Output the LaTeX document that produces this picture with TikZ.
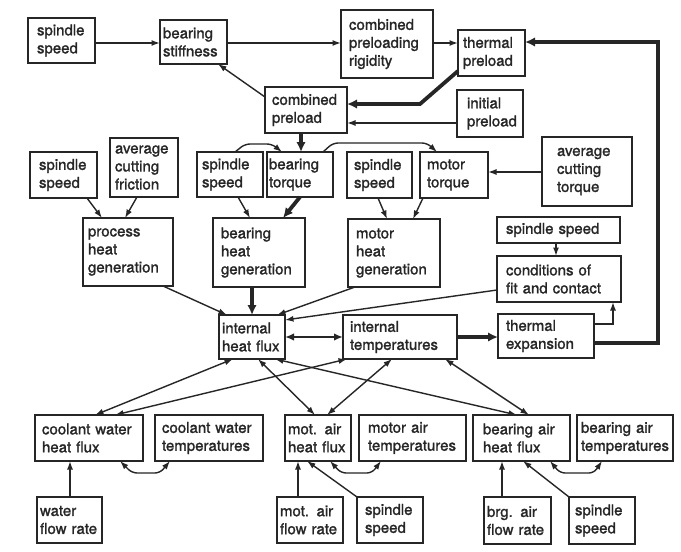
\documentclass[tikz,border=0pt]{standalone}
\usepackage{fontspec}
\setmainfont{TeX Gyre Heros}[FakeBold=1.4]
\usetikzlibrary{arrows.meta}
\definecolor{ink}{HTML}{262626}
\newcommand\bx[7][6]{%
  \pgfmathsetmacro\bxw{#5-#3}%
  \pgfmathsetmacro\bxh{#6-#4}%
  \pgfmathsetmacro\bxt{#5-#3-2*#1}%
  \node[box, inner xsep=#1pt, minimum width=\bxw pt, minimum height=\bxh pt,
        text width=\bxt pt, anchor=north west] (#2) at (#3,#4) {#7};%
}
\begin{document}
\begin{tikzpicture}[x=1pt,y=-1pt,
  box/.style={draw=ink, line width=1.5pt, outer sep=0pt, inner ysep=0pt,
    align=left, text=ink, font=\fontsize{15}{18}\selectfont},
  thin/.style={draw=ink, line width=1.4pt},
  thk/.style={draw=ink, line width=3.8pt, line join=miter},
  med/.style={draw=ink, line width=2.8pt},
  arr/.style={-{Latex[length=8.5pt,width=6pt]}},
  darr/.style={{Latex[length=8.5pt,width=6pt]}-{Latex[length=8.5pt,width=6pt]}},
  tarr/.style={-{Latex[length=10pt,width=9.5pt]}},
]
\useasboundingbox[fill=white] (0,0) rectangle (681,552);

% ---- boxes ----
\bx[9]{ss1}{28}{18}{95}{63}{spindle\\speed}
\bx[3]{bs}{160}{20}{227}{64}{bearing\\stiffness}
\bx[8]{cpr}{341}{10}{433}{78}{combined\\preloading\\rigidity}
\bx[5]{tp}{458}{30}{525}{76}{thermal\\preload}
\bx[10]{ip}{457}{90}{523}{137}{initial\\preload}
\bx[7]{cp}{265}{87}{347}{133}{combined\\preload}

\bx[9]{ss2}{30}{152}{97}{198}{spindle\\speed}
\bx[5]{acf}{110}{138}{178}{197}{average\\cutting\\friction}
\bx[5]{phg}{83}{218}{173}{286}{process\\heat\\generation}
\bx[5]{ss3}{197}{152}{263}{197}{spindle\\speed}
\bx[2]{btq}{267}{152}{333}{197}{bearing\\torque}
\bx[8]{bhg}{213}{218}{305}{287}{bearing\\heat\\generation}
\bx[7]{ss4}{347}{152}{412}{198}{spindle\\speed}
\bx[7]{mt}{420}{152}{488}{198}{motor\\torque}
\bx[15]{act}{542}{137}{632}{206}{average\\cutting\\torque}
\bx[8]{mhg}{348}{219}{440}{287}{motor\\heat\\generation}
\bx[9]{ss5}{497}{217}{620}{243}{spindle speed}
\bx[9]{cfc}{497}{256}{621}{302}{conditions of\\fit and contact}
\bx[8]{te}{498}{314}{594}{358}{thermal\\expansion}
\bx[3]{ihf}{219}{315}{285}{359}{internal\\heat flux}
\bx[7]{it}{343}{315}{457}{359}{internal\\temperatures}

\bx[7]{cwhf}{35}{415}{143}{461}{coolant water\\heat flux}
\bx[7]{cwt}{155}{415}{263}{461}{coolant water\\temperatures}
\bx[3]{wfr}{37}{497}{102}{543}{water\\flow rate}
\bx[3]{mahf}{285}{415}{351}{461}{mot. air\\heat flux}
\bx[9]{mat}{359}{415}{466}{461}{motor air\\temperatures}
\bx[3]{mafr}{277}{497}{343}{543}{mot. air\\flow rate}
\bx[8]{ss6}{357}{497}{423}{543}{spindle\\speed}
\bx[10]{bahf}{473}{415}{570}{461}{bearing air\\heat flux}
\bx[4]{bat}{577}{415}{673}{461}{bearing air\\temperatures}
\bx[3]{bafr}{484}{497}{551}{544}{brg. air\\flow rate}
\bx[6]{ss7}{569}{497}{635}{544}{spindle\\speed}

% ---- connectors: top ----
\draw[thin,arr] (ss1.east |- 0,43) -- (bs.west |- 0,43);
\draw[thin,arr] (bs.east |- 0,43) -- (cpr.west |- 0,43);
\draw[thin,arr] (cpr.east |- 0,43) -- (tp.west |- 0,43);
\draw[thin,arr] (cp.west |- 0,97) -- (218,0 |- bs.south);
\draw[thk,tarr] (tp.west |- 0,71) -- (420,104) -- (cp.east |- 0,104);
\draw[thin,arr] (ip.west |- 0,123) -- (cp.east |- 0,123);
\draw[thk,tarr] (te.east |- 0,343) -- (658,343) -- (658,42) -- (tp.east |- 0,42);
\draw[thk,tarr] (301,0 |- cp.south) -- (301,0 |- btq.north);
\draw[thin,arr,rounded corners=5pt] (235,0 |- ss3.north) -- (245,144) -- (272,144) -- (282,0 |- btq.north);
\draw[thin,arr,rounded corners=5pt] (323,0 |- btq.north) -- (333,143) -- (427,143) -- (437,0 |- mt.north);
\draw[thin,arr] (act.west |- 0,172) -- (mt.east |- 0,172);

% ---- heat generation ----
\draw[thin,arr] (87,0 |- ss2.south) -- (102,0 |- phg.north);
\draw[thin,arr] (137,0 |- acf.south) -- (125,0 |- phg.north);
\draw[thin,arr] (238,0 |- ss3.south) -- (250,0 |- bhg.north);
\draw[thk,tarr] (300,0 |- btq.south) -- (283,0 |- bhg.north);
\draw[thin,arr] (378,0 |- ss4.south) -- (387,0 |- mhg.north);
\draw[thin,arr] (423,0 |- mt.south) -- (413,0 |- mhg.north);
\draw[thin,arr] (163,0 |- phg.south) -- (227,0 |- ihf.north);
\draw[thk,tarr] (252,0 |- bhg.south) -- (252,0 |- ihf.north);
\draw[thin,arr] (355,0 |- mhg.south) -- (277,0 |- ihf.north);
\draw[thin,arr] (cfc.west |- 0,290) -- (ihf.east |- 0,320);
\draw[thin,arr] (556,0 |- ss5.south) -- (556,0 |- cfc.north);
\draw[thin,arr] (te.east |- 0,324) -| (613,0 |- cfc.south);

% ---- internal ----
\draw[med,{Latex[length=9pt,width=7.5pt]}-{Latex[length=9pt,width=7.5pt]}] (ihf.east |- 0,337) -- (it.west |- 0,337);
\draw[thk,tarr] (it.east |- 0,337) -- (te.west |- 0,337);

% ---- exchanges with bottom row ----
\draw[thin,darr] (233,0 |- ihf.south) -- (95,0 |- cwhf.north);
\draw[thin,darr] (347,0 |- it.south) -- (115,0 |- cwhf.north);
\draw[thin,darr] (258,0 |- ihf.south) -- (315,0 |- mahf.north);
\draw[thin,darr] (392,0 |- it.south) -- (327,0 |- mahf.north);
\draw[thin,darr] (275,0 |- ihf.south) -- (517,0 |- bahf.north);
\draw[thin,darr] (445,0 |- it.south) -- (529,0 |- bahf.north);

% ---- bottom loops ----
\draw[thin,darr,rounded corners=5pt] (120,0 |- cwhf.south) -- (132,473) -- (160,473) -- (170,0 |- cwt.south);
\draw[thin,darr,rounded corners=5pt] (330,0 |- mahf.south) -- (341,473) -- (372,473) -- (381,0 |- mat.south);
\draw[thin,darr,rounded corners=5pt] (550,0 |- bahf.south) -- (560,473) -- (594,473) -- (602,0 |- bat.south);

% ---- bottom inputs ----
\draw[thin,arr] (70,0 |- wfr.north) -- (70,0 |- cwhf.south);
\draw[thin,arr] (298,0 |- mafr.north) -- (298,0 |- mahf.south);
\draw[thin,arr] (ss6.north west) -- (307,0 |- mahf.south);
\draw[thin,arr] (502,0 |- bafr.north) -- (502,0 |- bahf.south);
\draw[thin,arr] (ss7.north west) -- (523,0 |- bahf.south);
\end{tikzpicture}
\end{document}
